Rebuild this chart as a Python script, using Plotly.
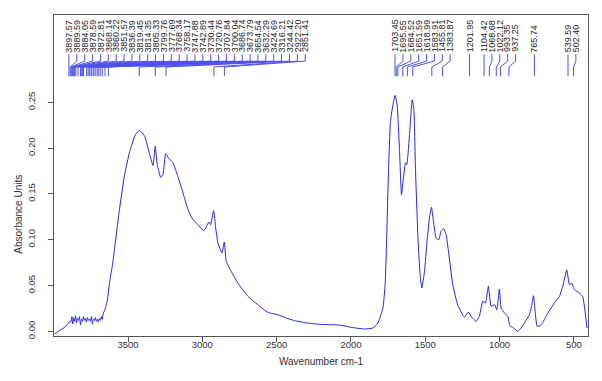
import plotly.graph_objects as go

# ---- spectrum data ----
wavenumber = [3993, 3960, 3930, 3905, 3892, 3885, 3878, 3872, 3866, 3860, 3853, 3846, 3840, 3833,
              3826, 3820, 3813, 3806, 3800, 3793, 3786, 3780, 3773, 3766, 3760, 3753, 3746, 3740,
              3733, 3726, 3720, 3713, 3706, 3700, 3693, 3686, 3680, 3673, 3668, 3655, 3640, 3623,
              3605, 3590, 3556, 3523, 3489, 3451, 3422, 3388, 3354, 3332, 3317, 3303, 3280, 3265,
              3247, 3227, 3198, 3164, 3130, 3097, 3070, 3030, 2991, 2974, 2956, 2944, 2924, 2910,
              2895, 2868, 2852, 2839, 2806, 2761, 2693, 2626, 2559, 2492, 2447, 2379, 2290, 2200,
              2133, 2066, 1999, 1909, 1853, 1819, 1785, 1770, 1759, 1747, 1734, 1718, 1703, 1689,
              1673, 1660, 1649, 1633, 1624, 1606, 1588, 1577, 1566, 1550, 1535, 1523, 1505, 1488,
              1472, 1458, 1445, 1427, 1409, 1393, 1377, 1360, 1345, 1315, 1281, 1236, 1210, 1187,
              1158, 1136, 1113, 1095, 1075, 1057, 1034, 1019, 1001, 990, 967, 945, 929, 911, 878,
              855, 829, 799, 783, 772, 761, 747, 721, 675, 631, 597, 575, 548, 530, 514, 496, 463,
              441, 425, 412]
absorbance = [-0.003, 0.001, 0.004, 0.008, 0.011, 0.010, 0.016, 0.008, 0.015, 0.011, 0.017, 0.009,
              0.014, 0.012, 0.016, 0.007, 0.013, 0.011, 0.016, 0.012, 0.014, 0.010, 0.015, 0.012,
              0.013, 0.011, 0.016, 0.008, 0.013, 0.012, 0.015, 0.011, 0.013, 0.010, 0.014, 0.012,
              0.016, 0.013, 0.019, 0.024, 0.033, 0.055, 0.072, 0.091, 0.135, 0.171, 0.196, 0.2146,
              0.2194, 0.213, 0.193, 0.181, 0.202, 0.182, 0.168, 0.171, 0.194, 0.189, 0.184, 0.169,
              0.151, 0.133, 0.1237, 0.1164, 0.1098, 0.1139, 0.1193, 0.1164, 0.1317, 0.1128, 0.0964,
              0.0855, 0.0975, 0.0764, 0.0655, 0.0527, 0.0382, 0.029, 0.0207, 0.0181, 0.0153, 0.0116,
              0.009, 0.0075, 0.0072, 0.0066, 0.0044, 0.0025, 0.0036, 0.009, 0.0254, 0.051, 0.1055,
              0.178, 0.229, 0.247, 0.2575, 0.247, 0.1965, 0.149, 0.164, 0.184, 0.182, 0.2146, 0.2528,
              0.2438, 0.178, 0.1055, 0.0618, 0.0473, 0.0655, 0.0983, 0.1237, 0.1354, 0.12, 0.1019,
              0.1, 0.1098, 0.112, 0.1055, 0.089, 0.051, 0.0284, 0.0153, 0.0211, 0.0153, 0.0109,
              0.0164, 0.0328, 0.0309, 0.0491, 0.0273, 0.029, 0.0236, 0.0462, 0.0254, 0.02, 0.0164,
              0.0055, 0.0044, 0.0, 0.0036, 0.0102, 0.0181, 0.029, 0.0389, 0.0218, 0.0055, 0.0066,
              0.02, 0.0309, 0.0382, 0.0491, 0.0672, 0.0509, 0.0527, 0.0454, 0.0418, 0.0382, 0.0218,
              0.0036]

# ---- peak labels ----
peaks_high = [3897.57, 3889.59, 3884.05, 3878.59, 3872.81, 3868.14, 3860.22, 3851.57, 3836.39,
              3819.45, 3814.35, 3805.33, 3799.76, 3777.69, 3768.34, 3758.17, 3747.88, 3742.89,
              3730.44, 3720.76, 3707.84, 3700.04, 3686.74, 3673.79, 3654.54, 3632.29, 3424.69,
              3316.21, 3244.42, 2922.20, 2851.41]
peaks_low = [1703.45, 1695.55, 1684.52, 1651.59, 1618.99, 1583.91, 1455.81, 1383.87, 1201.95,
             1104.42, 1068.68, 1022.12, 993.35, 937.25, 765.74, 539.59, 502.40]

x_ticks = [3500, 3000, 2500, 2000, 1500, 1000, 500]
y_ticks = [0.00, 0.05, 0.10, 0.15, 0.20, 0.25]

BLUE = "#2424e8"
LINK = "#5050ee"
GREY = "#555555"
FONT = "Liberation Sans, Arial, sans-serif"

# label spreading (minimum gap between label columns, in wavenumber units)
GAP = 53.0
peaks = sorted(peaks_high + peaks_low, reverse=True)
label_x = []
for p in peaks:
    if not label_x:
        label_x.append(p)
    else:
        label_x.append(min(p, label_x[-1] - GAP))

Y_TXT = 0.3035   # bottom of text
Y_A = 0.3025
Y_B = 0.2950
Y_C = 0.2885
Y_D = 0.2785

lx, ly = [], []
for p, l in zip(peaks, label_x):
    lx += [l, l, p, p, None]
    ly += [Y_A, Y_B, Y_C, Y_D, None]

fig = go.Figure()
fig.add_trace(go.Scatter(x=lx, y=ly, mode="lines", line=dict(color=LINK, width=1),
                         hoverinfo="skip", showlegend=False))
fig.add_trace(go.Scatter(x=wavenumber, y=absorbance, mode="lines",
                         line=dict(color=BLUE, width=1, shape="spline", smoothing=0.4),
                         showlegend=False))

for p, l in zip(peaks, label_x):
    fig.add_annotation(x=l, y=Y_TXT, text=f"{p:.2f}", textangle=-90, showarrow=False,
                       xanchor="center", yanchor="bottom", borderpad=0,
                       font=dict(family=FONT, size=9, color="#222222"))

fig.add_annotation(x=-0.068, y=0.38, xref="paper", yref="paper", text="Absorbance Units",
                   textangle=-90, showarrow=False, xanchor="center", yanchor="middle",
                   font=dict(family=FONT, size=10, color="#333333"))

fig.update_layout(
    width=602, height=381,
    margin=dict(l=46, r=22, t=7, b=53),
    paper_bgcolor="white", plot_bgcolor="white",
    font=dict(family=FONT, size=10, color="#333333"),
    xaxis=dict(range=[3998, 405], tickvals=x_ticks, ticks="outside", ticklen=5,
               tickcolor=GREY, showline=True, linecolor=GREY, linewidth=1, mirror=True,
               showgrid=False, zeroline=False, tickfont=dict(size=9.5, color="#333333"),
               ticklabelstandoff=-5,
               title=dict(text="Wavenumber cm-1", font=dict(size=10, color="#333333"),
                          standoff=8)),
    yaxis=dict(range=[-0.0051, 0.3453], tickvals=y_ticks, tickformat=".2f",
               ticks="outside", ticklen=5, tickcolor=GREY, tickangle=-90,
               showline=True, linecolor=GREY, linewidth=1, mirror=True,
               showgrid=False, zeroline=False, tickfont=dict(size=9.5, color="#333333"),
               ticklabelstandoff=9),
)

fig.write_html("out.html")
